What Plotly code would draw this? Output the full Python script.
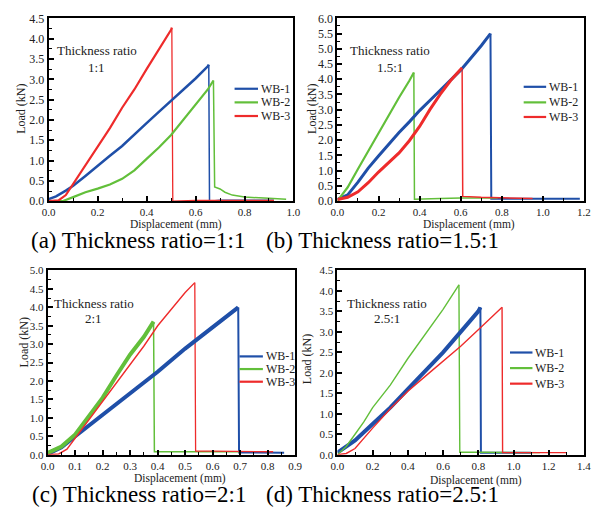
import plotly.graph_objects as go

# ---------------- data ----------------
# (a) Thickness ratio 1:1
a_wb1_x = [0, 0.03, 0.07, 0.1, 0.15, 0.2, 0.25, 0.3, 0.35, 0.4, 0.45, 0.5, 0.55, 0.6, 0.65, 0.654, 0.657, 0.7, 0.8, 0.92]
a_wb1_y = [0.05, 0.12, 0.26, 0.38, 0.62, 0.88, 1.12, 1.36, 1.63, 1.92, 2.2, 2.47, 2.74, 3.02, 3.32, 3.36, 0.0, 0.02, 0.02, 0.02]
a_wb2_x = [0.0, 0.056, 0.1, 0.15, 0.2, 0.25, 0.3, 0.35, 0.4, 0.45, 0.5, 0.55, 0.6, 0.65, 0.673, 0.678, 0.7, 0.72, 0.75, 0.8, 0.9, 0.97]
a_wb2_y = [0.0, 0.0, 0.1, 0.22, 0.31, 0.41, 0.55, 0.76, 1.04, 1.32, 1.63, 2.0, 2.39, 2.75, 2.97, 0.35, 0.3, 0.22, 0.15, 0.1, 0.07, 0.05]
a_wb3_x = [0, 0.04, 0.07, 0.1, 0.15, 0.2, 0.25, 0.3, 0.35, 0.4, 0.45, 0.5, 0.503, 0.507, 0.6, 0.92]
a_wb3_y = [0.0, 0.02, 0.15, 0.42, 0.88, 1.35, 1.8, 2.3, 2.75, 3.25, 3.72, 4.22, 4.27, 0.0, 0.02, 0.02]

# (b) Thickness ratio 1.5:1
b_wb1_x = [0, 0.05, 0.1, 0.15, 0.2, 0.25, 0.3, 0.35, 0.4, 0.45, 0.5, 0.55, 0.6, 0.65, 0.7, 0.745, 0.749, 0.8, 1.0, 1.18]
b_wb1_y = [0.05, 0.2, 0.62, 1.08, 1.48, 1.88, 2.25, 2.6, 2.97, 3.3, 3.63, 3.95, 4.3, 4.7, 5.1, 5.5, 0.07, 0.07, 0.06, 0.07]
b_wb2_x = [0, 0.05, 0.1, 0.15, 0.2, 0.25, 0.3, 0.35, 0.372, 0.375, 0.5, 0.6, 0.78]
b_wb2_y = [0.0, 0.45, 1.05, 1.65, 2.25, 2.85, 3.4, 3.95, 4.22, 0.06, 0.08, 0.1, 0.1]
b_wb3_x = [0, 0.05, 0.1, 0.15, 0.2, 0.25, 0.3, 0.35, 0.4, 0.45, 0.5, 0.55, 0.6, 0.607, 0.61, 0.7, 0.8, 0.95]
b_wb3_y = [0.05, 0.12, 0.3, 0.6, 0.95, 1.25, 1.58, 1.98, 2.45, 3.0, 3.5, 3.95, 4.3, 4.38, 0.15, 0.12, 0.1, 0.08]

# (c) Thickness ratio 2:1
c_wb1_x = [0, 0.05, 0.1, 0.2, 0.3, 0.4, 0.5, 0.6, 0.69, 0.693, 0.696, 0.75, 0.86]
c_wb1_y = [0.02, 0.2, 0.5, 1.08, 1.65, 2.25, 2.88, 3.45, 3.98, 4.0, 0.06, 0.06, 0.05]
c_wb2_x = [0, 0.05, 0.1, 0.15, 0.2, 0.25, 0.3, 0.35, 0.38, 0.385, 0.388, 0.5, 0.7]
c_wb2_y = [0.05, 0.22, 0.55, 1.05, 1.55, 2.15, 2.72, 3.2, 3.55, 3.61, 0.08, 0.08, 0.08]
c_wb3_x = [0, 0.04, 0.07, 0.1, 0.13, 0.15, 0.2, 0.25, 0.3, 0.35, 0.4, 0.45, 0.5, 0.535, 0.538, 0.6, 0.82]
c_wb3_y = [0.0, 0.02, 0.15, 0.45, 0.75, 0.95, 1.45, 1.95, 2.45, 2.95, 3.5, 3.95, 4.4, 4.67, 0.1, 0.1, 0.08]

# (d) Thickness ratio 2.5:1
d_wb1_x = [0, 0.1, 0.2, 0.3, 0.4, 0.5, 0.6, 0.7, 0.8, 0.812, 0.815, 0.9, 1.1]
d_wb1_y = [0.05, 0.35, 0.75, 1.15, 1.6, 2.05, 2.5, 3.0, 3.5, 3.6, 0.05, 0.05, 0.05]
d_wb2_x = [0, 0.05, 0.1, 0.15, 0.2, 0.3, 0.4, 0.5, 0.6, 0.69, 0.695, 0.8, 1.15]
d_wb2_y = [0.0, 0.2, 0.5, 0.8, 1.15, 1.7, 2.35, 2.95, 3.55, 4.15, 0.06, 0.06, 0.05]
d_wb3_x = [0, 0.05, 0.1, 0.15, 0.2, 0.3, 0.4, 0.5, 0.6, 0.7, 0.8, 0.9, 0.935, 0.938, 1.1, 1.3]
d_wb3_y = [0.0, 0.03, 0.15, 0.4, 0.65, 1.12, 1.55, 1.92, 2.28, 2.65, 3.05, 3.45, 3.6, 0.05, 0.05, 0.05]

series_names = ["WB-1", "WB-2", "WB-3"]
panel_captions = ["(a) Thickness ratio=1:1", "(b) Thickness ratio=1.5:1",
                  "(c) Thickness ratio=2:1", "(d) Thickness ratio=2.5:1"]
panel_ratios = ["1:1", "1.5:1", "2:1", "2.5:1"]
x_ranges = [[0, 1.0], [0, 1.2], [0, 0.9], [0, 1.4]]
x_dticks = [0.2, 0.2, 0.1, 0.2]
y_ranges = [[0, 4.5], [0, 6.0], [0, 5.0], [0, 4.5]]

# ---------------- styling ----------------
W, H = 601, 524
FONT = "Liberation Serif"
BLUE, GREEN, RED = "#1f4fa8", "#62bf3a", "#ee2b2b"
colors = [BLUE, GREEN, RED]

def X(px):
    return px / W

def Y(py):
    return 1 - py / H

# plot boxes in pixels: (left, right, top, bottom)
boxes = [(42.7, 293.3, 11.7, 199.5), (338.3, 590.7, 11.7, 199.3),
         (41.7, 295.0, 270.7, 460.0), (338.3, 590.7, 270.7, 460.0)]

# (rising part width, drop/tail width)
widths = [[(2.5, 1.5), (2.2, 1.5), (2.2, 1.3)],
          [(3.0, 2.0), (2.2, 1.5), (3.0, 1.5)],
          [(4.0, 2.0), (4.0, 1.5), (1.4, 1.3)],
          [(4.0, 2.0), (1.4, 1.4), (1.4, 1.4)]]

data = [
    [(a_wb1_x, a_wb1_y), (a_wb2_x, a_wb2_y), (a_wb3_x, a_wb3_y)],
    [(b_wb1_x, b_wb1_y), (b_wb2_x, b_wb2_y), (b_wb3_x, b_wb3_y)],
    [(c_wb1_x, c_wb1_y), (c_wb2_x, c_wb2_y), (c_wb3_x, c_wb3_y)],
    [(d_wb1_x, d_wb1_y), (d_wb2_x, d_wb2_y), (d_wb3_x, d_wb3_y)],
]

fig = go.Figure()
layout = dict(width=W, height=H, autosize=False,
              margin=dict(l=0, r=0, t=0, b=0),
              paper_bgcolor="white", plot_bgcolor="white",
              showlegend=False, font=dict(family=FONT, color="#222"))

annotations = []
shapes = []

legend_pos = [
    (233, 257, [84, 98, 112]),
    (529, 552, [82, 98, 113]),
    (238, 262, [359, 372, 385]),
    (515, 538, [355, 371, 387]),
]
ratio_pos = [(92, 45, 62), (392, 45, 62), (89, 305, 320), (389, 305, 320)]
ytitle_pos = [(15, 105), (312, 105), (17, 345), (308, 362)]
xtitle_pos = [(173, 223), (473, 223), (177, 484), (480, 486)]
caption_pos = [(134, 240), (384, 240), (135, 501), (384, 501)]
xtick_sizes = [11, 11, 11, 11]
ytick_sizes = [12, 12, 11, 11]

for i in range(4):
    sfx = "" if i == 0 else str(i + 1)
    l, r, t, b = boxes[i]
    layout["xaxis" + sfx] = dict(
        domain=[X(l), X(r)], anchor="y" + sfx, range=x_ranges[i],
        dtick=x_dticks[i], tick0=0, tickformat=".1f",
        ticks="inside", ticklen=5, tickwidth=1.5, tickcolor="black",
        minor=dict(ticks="inside", ticklen=3, tickwidth=1.2, tickcolor="black",
                   dtick=x_dticks[i] / 2, tick0=0),
        showline=True, linewidth=2, linecolor="black", mirror=True,
        showgrid=False, zeroline=False,
        tickfont=dict(family=FONT, size=xtick_sizes[i], color="#222"),
        ticklabeloverflow="allow",
    )
    layout["yaxis" + sfx] = dict(
        domain=[Y(b), Y(t)], anchor="x" + sfx, range=y_ranges[i],
        dtick=0.5, tick0=0, tickformat=".1f",
        ticks="inside", ticklen=5, tickwidth=1.5, tickcolor="black",
        minor=dict(ticks="inside", ticklen=3, tickwidth=1.2, tickcolor="black",
                   dtick=0.25, tick0=0),
        showline=True, linewidth=2, linecolor="black", mirror=True,
        showgrid=False, zeroline=False,
        tickfont=dict(family=FONT, size=ytick_sizes[i], color="#222"),
        ticklabeloverflow="allow",
    )
    for j in range(3):
        xs, ys = data[i][j]
        k = ys.index(max(ys))  # peak index: split rising part and drop/tail
        w_rise, w_tail = widths[i][j]
        fig.add_trace(go.Scatter(x=xs[k:], y=ys[k:], mode="lines", name=series_names[j],
                                 line=dict(color=colors[j], width=w_tail),
                                 xaxis="x" + sfx, yaxis="y" + sfx,
                                 showlegend=False, hoverinfo="skip"))
    for j in range(3):
        xs, ys = data[i][j]
        k = ys.index(max(ys))
        w_rise, w_tail = widths[i][j]
        fig.add_trace(go.Scatter(x=xs[:k + 1], y=ys[:k + 1], mode="lines", name=series_names[j],
                                 line=dict(color=colors[j], width=w_rise),
                                 xaxis="x" + sfx, yaxis="y" + sfx,
                                 showlegend=False, hoverinfo="skip"))
    # custom legend
    lx0, lx1, rows = legend_pos[i]
    for j in range(3):
        shapes.append(dict(type="line", xref="paper", yref="paper",
                           x0=X(lx0), x1=X(lx1), y0=Y(rows[j]), y1=Y(rows[j]),
                           line=dict(color=colors[j], width=2.2)))
        annotations.append(dict(text=series_names[j], xref="paper", yref="paper",
                                x=X(lx1 + 1), y=Y(rows[j]), xanchor="left", yanchor="middle",
                                showarrow=False, font=dict(family=FONT, size=12, color="#222")))
    cx, y1, y2 = ratio_pos[i]
    annotations.append(dict(text="Thickness ratio", xref="paper", yref="paper",
                            x=X(cx), y=Y(y1), xanchor="center", yanchor="middle",
                            showarrow=False, font=dict(family=FONT, size=13, color="#222")))
    annotations.append(dict(text=panel_ratios[i], xref="paper", yref="paper",
                            x=X(cx), y=Y(y2), xanchor="center", yanchor="middle",
                            showarrow=False, font=dict(family=FONT, size=13, color="#222")))
    tx, ty = ytitle_pos[i]
    annotations.append(dict(text="Load (kN)", xref="paper", yref="paper",
                            x=X(tx), y=Y(ty), xanchor="center", yanchor="middle", textangle=-90,
                            showarrow=False, font=dict(family=FONT, size=12, color="#222")))
    tx, ty = xtitle_pos[i]
    annotations.append(dict(text="Displacement (mm)", xref="paper", yref="paper",
                            x=X(tx), y=Y(ty), xanchor="center", yanchor="middle",
                            showarrow=False, font=dict(family=FONT, size=11.5, color="#222")))
    tx, ty = caption_pos[i]
    annotations.append(dict(text=panel_captions[i], xref="paper", yref="paper",
                            x=X(tx), y=Y(ty), xanchor="center", yanchor="middle",
                            showarrow=False, font=dict(family=FONT, size=23, color="black")))

layout["annotations"] = annotations
layout["shapes"] = shapes
fig.update_layout(**layout)
fig.write_html("out.html", config={"displayModeBar": False},
               post_script="document.body.style.margin='0';")
